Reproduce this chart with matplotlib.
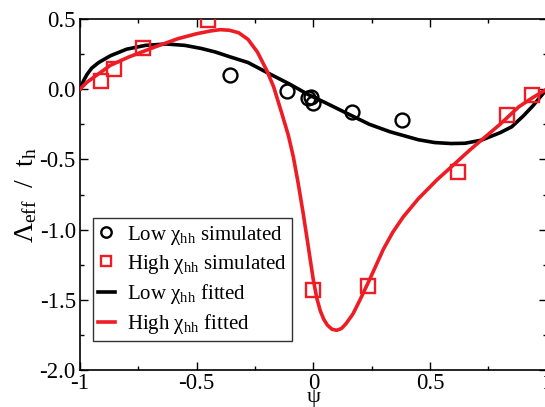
import matplotlib
matplotlib.use("Agg")
import matplotlib.pyplot as plt
from matplotlib.ticker import MultipleLocator, FixedLocator

plt.rcParams['font.family'] = ['Liberation Serif', 'DejaVu Serif']
plt.rcParams['mathtext.fontset'] = 'custom'
plt.rcParams['mathtext.rm'] = 'Liberation Serif'
plt.rcParams['mathtext.it'] = 'Liberation Serif:italic'
plt.rcParams['axes.unicode_minus'] = False

# Low chi_hh simulated (circles)
low_sim_x = [-0.357, -0.114, -0.021, -0.011, 0.0, 0.165, 0.381]
low_sim_y = [0.10, -0.01, -0.062, -0.057, -0.10, -0.16, -0.216]

# High chi_hh simulated (squares)
high_sim_x = [-0.91, -0.853, -0.729, -0.45, 0.0, 0.236, 0.621, 0.831, 0.936]
high_sim_y = [0.06, 0.147, 0.294, 0.49, -1.43, -1.40, -0.593, -0.185, -0.04]

# Low chi_hh fitted curve
low_fit_x = [-1.00, -0.985, -0.97, -0.95, -0.92, -0.87, -0.80, -0.72, -0.63, -0.55, -0.48, -0.42,
             -0.36, -0.28, -0.20, -0.10, -0.02, 0.05, 0.16, 0.24, 0.33, 0.45,
             0.52, 0.59, 0.65, 0.72, 0.80, 0.85, 0.90, 0.94, 0.97, 1.00]
low_fit_y = [0.00, 0.06, 0.105, 0.15, 0.19, 0.238, 0.285, 0.312, 0.322, 0.312, 0.29, 0.265,
             0.232, 0.19, 0.12, 0.035, -0.04, -0.095, -0.185, -0.25, -0.304, -0.36,
             -0.38, -0.387, -0.385, -0.363, -0.31, -0.268, -0.19, -0.12, -0.06, 0.00]

# High chi_hh fitted curve
high_fit_x = [-1.00, -0.97, -0.92, -0.87, -0.79, -0.68, -0.58, -0.50, -0.44, -0.40,
              -0.36, -0.32, -0.28, -0.24, -0.20, -0.17, -0.135, -0.107, -0.086, -0.065,
              -0.043, -0.02, 0.00, 0.015, 0.03, 0.045, 0.06, 0.08, 0.10, 0.12, 0.14, 0.17, 0.20, 0.24,
              0.30, 0.34, 0.385, 0.45, 0.53, 0.60, 0.67, 0.72, 0.80, 0.88, 0.94, 1.00]
high_fit_y = [0.00, 0.05, 0.11, 0.17, 0.23, 0.30, 0.36, 0.395, 0.415, 0.424,
              0.42, 0.402, 0.355, 0.265, 0.135, 0.016, -0.173, -0.33, -0.48, -0.67,
              -0.89, -1.14, -1.36, -1.49, -1.58, -1.64, -1.68, -1.71, -1.717, -1.705, -1.67, -1.60, -1.50, -1.36,
              -1.14, -1.02, -0.91, -0.78, -0.645, -0.54, -0.434, -0.363, -0.25, -0.126, -0.06, 0.00]

x_ticks = [-1, -0.5, 0, 0.5, 1]
x_tick_labels = ['-1', '-0.5', '0', '0.5', '1']
y_ticks = [0.5, 0.0, -0.5, -1.0, -1.5, -2.0]
y_tick_labels = ['0.5', '0.0', '-0.5', '-1.0', '-1.5', '-2.0']

RED = '#ee1c25'

fig = plt.figure(figsize=(5.45, 4.07), dpi=100)
ax = fig.add_axes([80/545, 1-370/407, 466.7/545, (370-19)/407])

ax.plot(low_fit_x, low_fit_y, color='black', lw=2.6, label=r'Low $\mathrm{\chi_{hh}}$ fitted', zorder=2)
ax.plot(high_fit_x, high_fit_y, color=RED, lw=2.6, label=r'High $\mathrm{\chi_{hh}}$ fitted', zorder=3)
ax.plot(low_sim_x, low_sim_y, 'o', ms=10, mfc='none', mec='black', mew=1.7,
        label=r'Low $\mathrm{\chi_{hh}}$ simulated', zorder=4)
ax.plot(high_sim_x, high_sim_y, 's', ms=9.5, mfc='none', mec=RED, mew=1.7,
        label=r'High $\mathrm{\chi_{hh}}$ simulated', zorder=4)

ax.set_xlim(-1, 1)
ax.set_ylim(-2.0, 0.5)
ax.xaxis.set_major_locator(FixedLocator(x_ticks))
ax.set_xticklabels(x_tick_labels)
ax.yaxis.set_major_locator(FixedLocator(y_ticks))
ax.set_yticklabels(y_tick_labels)
ax.xaxis.set_minor_locator(MultipleLocator(0.25))
ax.yaxis.set_minor_locator(MultipleLocator(0.25))
ax.tick_params(which='both', direction='in', top=True, right=True, width=1.0)
ax.tick_params(which='major', length=5.5, labelsize=16.5, pad=3)
ax.tick_params(axis='x', which='major', pad=2)
ax.tick_params(which='minor', length=2.8)
for s in ax.spines.values():
    s.set_linewidth(1.2)

# x-axis label placed just under the "0" tick label (pixel offset below the axis)
ax.annotate('ψ', xy=(0.5, 0.0), xycoords='axes fraction', xytext=(0, -32),
            textcoords='offset pixels', fontsize=16, ha='center', va='baseline',
            annotation_clip=False)
ax.set_ylabel(r'$\mathrm{\Lambda_{eff}\ \ /\ \ t_h}$', fontsize=20, labelpad=0)

handles, labels = ax.get_legend_handles_labels()
order = [2, 3, 0, 1]
leg = ax.legend([handles[i] for i in order], [labels[i] for i in order],
                loc='upper left', bbox_to_anchor=(12.7/466.7, (370-218.3)/351),
                fontsize=15, frameon=True, fancybox=False, edgecolor='black',
                handlelength=0.8, handletextpad=0.6, markerscale=0.75,
                borderpad=0.25, labelspacing=0.3, borderaxespad=0)
leg.get_frame().set_linewidth(1.0)

fig.savefig('out.png', dpi=100)
